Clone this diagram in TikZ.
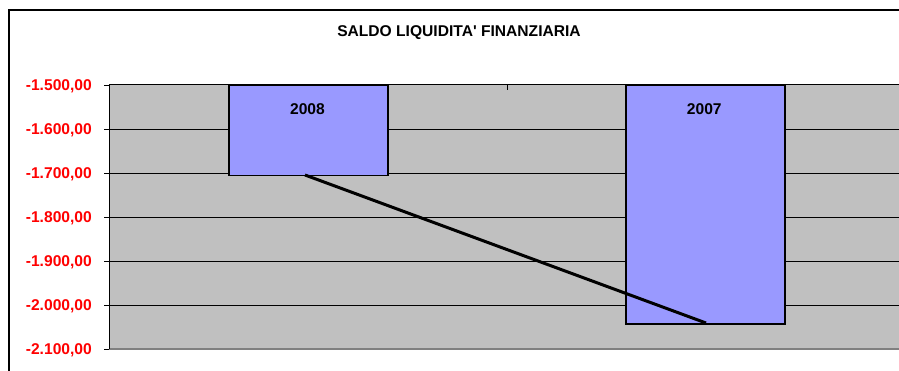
\documentclass[tikz,border=0pt]{standalone}
\usepackage{fontspec}
\newfontfamily\chartfont{Liberation Sans}
\usepackage{xcolor}
\usetikzlibrary{positioning}
\definecolor{barblue}{HTML}{9999FF}
\definecolor{plotgray}{HTML}{C0C0C0}
\definecolor{bordergray}{HTML}{808080}

\begin{document}
\begin{tikzpicture}[x=1pt, y=-1pt,
    lbl/.style={font=\chartfont\fontsize{15.6}{18}\selectfont\bfseries, inner sep=0pt},
    bar/.style={draw, fill=barblue, line width=1.5pt, inner sep=0pt, anchor=north west}]
\useasboundingbox (0,0) rectangle (899,371);
% chart frame and title
\draw[line width=1.2pt] (9,375) -- (9,10) -- (905,10);
\node[lbl, anchor=base] (title) at (459,36.7) {SALDO LIQUIDITA' FINANZIARIA};
% plot area
\fill[plotgray] (109,85) rectangle (905,349);
\foreach \v/\y in {1.600/129, 1.700/173, 1.800/217, 1.900/261, 2.000/305} {
    \draw[line width=0.9pt] (104,\y) -- (905,\y);
}
\foreach \v/\y in {1.500/85, 1.600/129, 1.700/173, 1.800/217, 1.900/261, 2.000/305, 2.100/349} {
    \draw[line width=0.9pt] (104,\y) -- (109,\y);
    \node[lbl, red, anchor=base east] (y\y) at (92,\y+5.6) {-\v,00};
}
% bars
\node[bar, minimum width=159, minimum height=90] (b2008) at (228,85) {};
\node[bar, minimum width=159, minimum height=238] (b2007) at (625,85) {};
\node[lbl, anchor=base] (l2008) at (307.5,114.3) {2008};
\node[lbl, anchor=base] (l2007) at (704.3,114.3) {2007};
% axes
\draw[bordergray, line width=2pt] (109,349) -- (905,349);
\draw[line width=1pt] (109,85) -- (109,349);
\draw[line width=1pt] (109,85) -- (905,85);
\draw[line width=1pt] (507,85) -- (507,90);
% trend line
\coordinate (v2008) at (305,175);
\coordinate (v2007) at (706,323);
\draw[line width=3pt] (v2008) -- (v2007);
\end{tikzpicture}
\end{document}
